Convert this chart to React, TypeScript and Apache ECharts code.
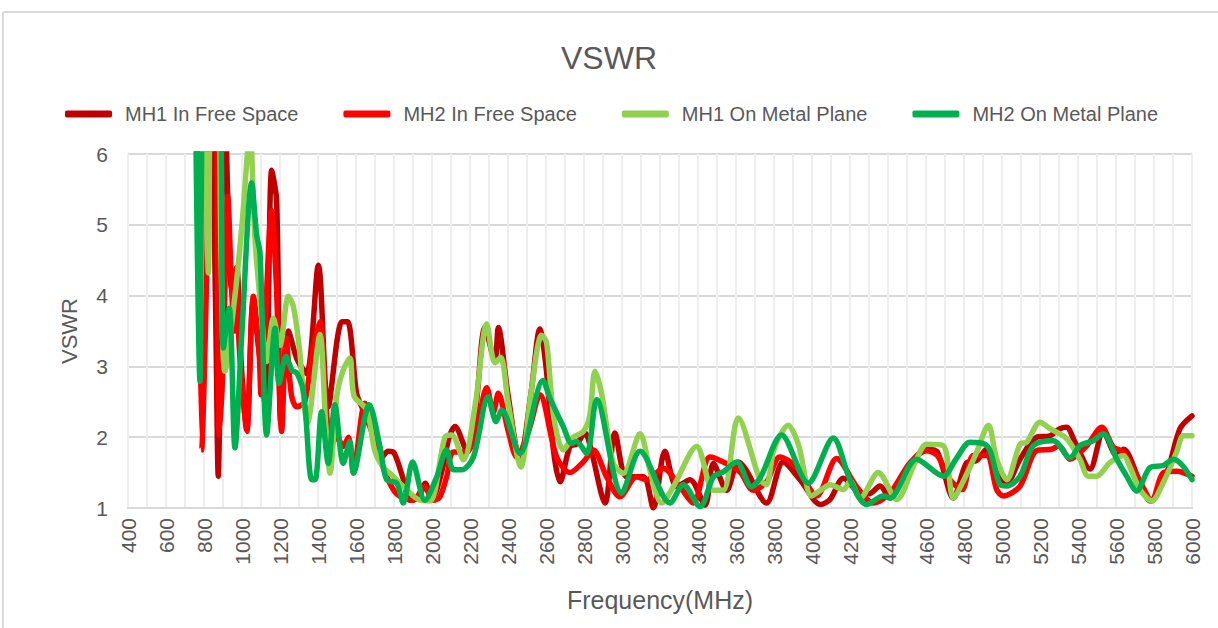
import React, { useEffect, useRef } from "react";
import * as echarts from "echarts";

const TITLE = "VSWR";
const SERIES_NAMES = ["MH1 In Free Space", "MH2 In Free Space", "MH1 On Metal Plane", "MH2 On Metal Plane"];
const COLORS = ["#C00000", "#FF0000", "#92D050", "#00B050"];

// MH1 In Free Space
const mh1FreeFreq = [760, 790, 830, 860, 875, 890, 905, 925, 946, 972, 990, 1025, 1058, 1090, 1125, 1156, 1182, 1205, 1244, 1290, 1340, 1402, 1454, 1526, 1555, 1603, 1630, 1680, 1730, 1770, 1800, 1850, 1884, 1930, 1965, 1998, 2050, 2090, 2121, 2182, 2230, 2279, 2331, 2349, 2400, 2463, 2520, 2568, 2600, 2640, 2674, 2726, 2760, 2805, 2835, 2911, 2963, 3025, 3112, 3165, 3226, 3288, 3358, 3437, 3481, 3551, 3612, 3650, 3761, 3849, 3937, 4045, 4095, 4165, 4253, 4300, 4358, 4410, 4498, 4604, 4660, 4744, 4814, 4867, 4919, 4972, 5025, 5095, 5182, 5253, 5305, 5340, 5384, 5463, 5533, 5604, 5640, 5726, 5779, 5867, 5937, 6000];
const mh1FreeVal = [8, 7, 7.5, 4, 1.45, 4, 7.5, 5.4, 4.1, 4.4, 3.3, 2.1, 3.9, 3.2, 2.4, 5.77, 5.35, 2.2, 3.5, 3.1, 2.9, 4.43, 2.43, 3.63, 3.63, 2.62, 2.43, 2.1, 1.7, 1.8, 1.78, 1.4, 1.11, 1.15, 1.35, 1.11, 1.5, 2.0, 2.15, 1.82, 2.4, 3.55, 3.08, 3.55, 2.6, 1.68, 2.6, 3.53, 3.0, 1.8, 1.37, 1.87, 1.9, 2.06, 1.85, 1.07, 2.06, 1.44, 1.44, 1.0, 1.8, 1.3, 1.4, 1.04, 1.63, 1.25, 1.65, 1.55, 1.07, 1.65, 1.4, 1.05, 1.12, 1.42, 1.21, 1.2, 1.31, 1.14, 1.55, 1.83, 1.79, 1.14, 1.64, 1.67, 1.83, 1.5, 1.36, 1.69, 2.0, 2.02, 2.12, 2.14, 1.93, 1.55, 2.07, 1.74, 1.83, 1.36, 1.1, 1.5, 2.12, 2.3];

// MH2 In Free Space
const mh2FreeFreq = [760, 788, 814, 832, 860, 880, 900, 925, 946, 960, 972, 985, 1025, 1060, 1090, 1100, 1156, 1180, 1209, 1232, 1260, 1288, 1330, 1370, 1410, 1440, 1470, 1500, 1533, 1560, 1586, 1647, 1700, 1761, 1814, 1902, 1960, 2007, 2040, 2077, 2112, 2182, 2240, 2288, 2323, 2349, 2400, 2446, 2510, 2568, 2656, 2726, 2796, 2849, 2919, 2989, 3077, 3130, 3217, 3305, 3375, 3463, 3533, 3621, 3691, 3761, 3831, 3919, 4025, 4130, 4235, 4323, 4410, 4516, 4604, 4660, 4726, 4790, 4849, 4919, 4972, 5007, 5095, 5182, 5261, 5300, 5358, 5446, 5525, 5586, 5639, 5735, 5788, 5849, 5920, 6000];
const mh2FreeVal = [8, 1.82, 4.3, 7.5, 7.5, 2.03, 3.0, 5.4, 4.06, 3.5, 4.39, 3.3, 2.08, 3.99, 3.2, 2.6, 5.2, 4.2, 2.08, 3.4, 2.6, 2.43, 2.5, 3.2, 3.63, 2.5, 1.9, 2.0, 1.87, 2.0, 1.54, 2.48, 1.9, 1.45, 1.2, 1.11, 1.3, 1.11, 1.15, 1.44, 1.79, 1.79, 2.2, 2.7, 2.35, 2.62, 2.1, 1.72, 2.1, 2.6, 1.72, 1.5, 1.65, 1.82, 1.44, 1.16, 1.44, 1.4, 1.56, 1.3, 1.07, 1.72, 1.65, 1.51, 1.25, 1.37, 1.72, 1.58, 1.17, 1.7, 1.3, 1.07, 1.21, 1.64, 1.81, 1.74, 1.4, 1.26, 1.74, 1.74, 1.26, 1.17, 1.31, 1.81, 1.83, 1.88, 1.69, 1.88, 2.14, 1.86, 1.79, 1.33, 1.1, 1.5, 1.52, 1.45];

// MH1 On Metal Plane
const mh1MetalFreq = [780, 800, 823, 840, 870, 890, 910, 963, 1000, 1042, 1068, 1100, 1130, 1165, 1200, 1244, 1270, 1300, 1345, 1410, 1440, 1463, 1500, 1533, 1568, 1590, 1656, 1700, 1742, 1795, 1850, 1937, 1990, 2068, 2104, 2165, 2230, 2288, 2331, 2362, 2400, 2468, 2520, 2577, 2603, 2640, 2691, 2744, 2796, 2830, 2858, 2895, 2954, 3007, 3095, 3150, 3209, 3270, 3393, 3481, 3533, 3612, 3726, 3760, 3800, 3875, 3930, 3998, 4050, 4095, 4165, 4200, 4253, 4349, 4446, 4542, 4604, 4691, 4744, 4800, 4867, 4928, 4972, 5025, 5095, 5130, 5200, 5253, 5340, 5410, 5454, 5498, 5568, 5639, 5670, 5726, 5788, 5849, 5919, 5954, 6000];
const mh1MetalVal = [8, 7.5, 4.32, 7.5, 7.5, 4.5, 2.93, 4.0, 5.0, 6.3, 4.81, 3.8, 3.07, 3.68, 3.3, 3.99, 3.85, 3.3, 2.2, 3.45, 2.2, 1.49, 2.6, 2.95, 3.12, 2.58, 2.39, 1.8, 1.58, 1.45, 1.3, 1.11, 1.1, 2.0, 2.03, 1.68, 2.5, 3.6, 3.05, 3.13, 2.5, 1.58, 2.6, 3.44, 3.34, 2.3, 1.82, 2.0, 2.08, 2.3, 2.93, 2.58, 1.63, 1.49, 2.05, 1.5, 1.07, 1.3, 1.87, 1.25, 1.25, 2.27, 1.4, 1.33, 1.83, 2.17, 1.88, 1.17, 1.26, 1.33, 1.26, 1.38, 1.14, 1.5, 1.12, 1.64, 1.9, 1.88, 1.14, 1.4, 1.79, 2.17, 1.69, 1.4, 1.9, 1.93, 2.21, 2.12, 1.98, 1.69, 1.45, 1.45, 1.64, 1.74, 1.6, 1.26, 1.1, 1.36, 1.79, 2.02, 2.02];

// MH2 On Metal Plane
const mh2MetalFreq = [750, 779, 805, 875, 902, 933, 963, 1000, 1051, 1077, 1095, 1130, 1174, 1195, 1232, 1262, 1290, 1325, 1367, 1385, 1419, 1454, 1489, 1533, 1568, 1586, 1670, 1726, 1761, 1814, 1849, 1898, 1963, 2025, 2077, 2112, 2156, 2218, 2296, 2337, 2367, 2463, 2584, 2621, 2691, 2735, 2760, 2814, 2867, 2998, 3095, 3253, 3323, 3411, 3481, 3533, 3603, 3682, 3730, 3840, 3980, 4112, 4200, 4288, 4375, 4410, 4551, 4691, 4760, 4832, 4910, 4940, 4989, 5025, 5095, 5165, 5270, 5358, 5410, 5480, 5533, 5604, 5656, 5709, 5779, 5849, 5902, 5950, 6000];
const mh2MetalVal = [8, 2.79, 7.5, 7.5, 3.26, 3.82, 1.85, 3.5, 5.59, 4.86, 4.6, 2.03, 3.54, 2.76, 3.14, 2.95, 2.9, 2.62, 1.4, 1.4, 2.36, 1.63, 2.46, 1.63, 1.94, 1.49, 2.46, 1.87, 1.4, 1.35, 1.07, 1.65, 1.11, 1.44, 1.82, 1.54, 1.54, 1.72, 2.57, 2.22, 2.38, 1.77, 2.8, 2.55, 2.15, 1.91, 1.94, 1.77, 2.53, 1.21, 1.8, 1.07, 1.33, 1.02, 1.44, 1.51, 1.65, 1.3, 1.44, 2.03, 1.35, 1.99, 1.4, 1.05, 1.17, 1.14, 1.69, 1.45, 1.7, 1.93, 1.9, 1.79, 1.33, 1.31, 1.45, 1.88, 1.95, 1.71, 1.88, 1.95, 2.05, 1.69, 1.45, 1.24, 1.57, 1.6, 1.69, 1.6, 1.4];

const X_MIN = 400;
const X_MAX = 6000;
const X_LABEL_STEP = 200;
const Y_MIN = 1;
const Y_MAX = 6;

const FONT = "'Liberation Sans', Arial, sans-serif";
const TEXT = "#595959";

function pairs(f: number[], v: number[]) {
  return f.map((x, i) => [x, v[i]]);
}

export default function App() {
  const ref = useRef<HTMLDivElement>(null);
  useEffect(() => {
    if (!ref.current) return;
    const chart = echarts.init(ref.current, undefined, { renderer: "svg" });
    const data = [
      pairs(mh1FreeFreq, mh1FreeVal),
      pairs(mh2FreeFreq, mh2FreeVal),
      pairs(mh1MetalFreq, mh1MetalVal),
      pairs(mh2MetalFreq, mh2MetalVal),
    ];
    chart.setOption({
      animation: false,
      backgroundColor: "#ffffff",
      textStyle: { fontFamily: FONT },
      graphic: [
        {
          type: "rect",
          shape: { x: 3, y: 12, width: 1230, height: 640, r: 2 },
          style: { fill: "none", stroke: "#d9d9d9", lineWidth: 2 },
          silent: true,
          z: -1,
        },
      ],
      title: {
        text: TITLE,
        left: "center",
        top: 37,
        textStyle: { fontSize: 32, fontWeight: "normal", color: TEXT, fontFamily: FONT },
      },
      legend: {
        top: 99,
        left: 60,
        itemWidth: 47,
        itemHeight: 7,
        itemGap: 45,
        icon: "roundRect",
        data: SERIES_NAMES,
        textStyle: { fontSize: 20, color: TEXT, fontFamily: FONT, padding: [0, 0, 0, 8] },
      },
      grid: { left: 128, right: 26, top: 154, bottom: 120, containLabel: false },
      xAxis: {
        type: "value",
        min: X_MIN,
        max: X_MAX,
        interval: 100,
        name: "Frequency(MHz)",
        nameLocation: "middle",
        nameGap: 79,
        nameTextStyle: { fontSize: 25, color: TEXT, fontFamily: FONT },
        axisLine: { show: true, lineStyle: { color: "#d9d9d9", width: 2 } },
        axisTick: { show: false },
        axisLabel: {
          rotate: 90,
          fontSize: 21,
          color: TEXT,
          margin: 10,
          fontFamily: FONT,
          formatter: (v: number) => (v % X_LABEL_STEP === 0 ? String(v) : ""),
        },
        splitLine: { show: true, lineStyle: { color: "#eeeeee", width: 2 } },
      },
      yAxis: {
        type: "value",
        min: Y_MIN,
        max: Y_MAX,
        interval: 1,
        name: "VSWR",
        nameLocation: "middle",
        nameGap: 48,
        nameTextStyle: { fontSize: 22, color: TEXT, fontFamily: FONT },
        axisLine: { show: false },
        axisTick: { show: false },
        axisLabel: { fontSize: 21, color: TEXT, margin: 20, fontFamily: FONT },
        splitLine: { show: true, lineStyle: { color: "#d9d9d9", width: 2 } },
      },
      series: SERIES_NAMES.map((name, i) => ({
        name,
        type: "line",
        data: data[i],
        smooth: 0.3,
        symbol: "none",
        clip: true,
        color: COLORS[i],
        lineStyle: { width: 5.5, color: COLORS[i], cap: "round", join: "round" },
        z: 2 + i,
      })),
    });
    return () => chart.dispose();
  }, []);
  return (
    <div
      ref={ref}
      style={{ position: "absolute", left: 0, top: 0, width: 1218, height: 628 }}
    />
  );
}
